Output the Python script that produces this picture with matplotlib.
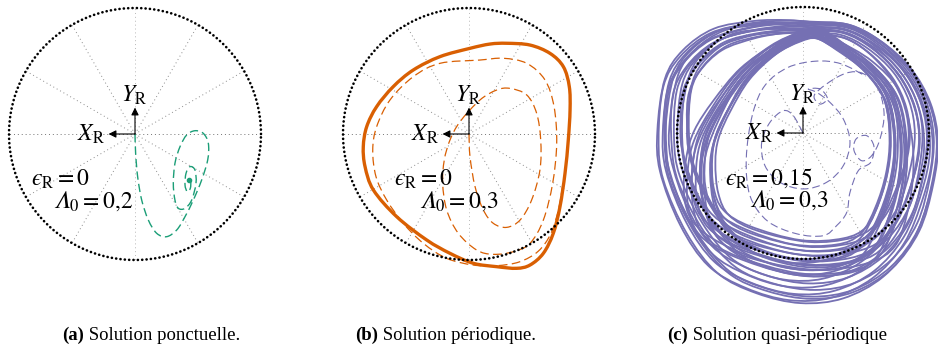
import matplotlib
matplotlib.use("Agg")
import matplotlib.pyplot as plt
import numpy as np
from matplotlib.path import Path
from matplotlib.patches import PathPatch

plt.rcParams['mathtext.fontset'] = 'stix'
plt.rcParams['font.family'] = ['Liberation Serif', 'DejaVu Serif']

# panel (a): spiral towards a fixed point (unit = outer circle radius)
a_x = [0.0, 0.005, 0.021, 0.053, 0.106, 0.172, 0.251, 0.331, 0.397, 0.463, 0.529, 0.577,
       0.582, 0.542, 0.476, 0.410, 0.357, 0.317, 0.304, 0.317, 0.344, 0.397, 0.450, 0.484,
       0.476, 0.437, 0.405, 0.397, 0.415, 0.439, 0.442, 0.426]
a_y = [0.0, -0.153, -0.339, -0.524, -0.683, -0.788, -0.815, -0.762, -0.656, -0.524, -0.365, -0.206,
       -0.074, 0.005, 0.026, -0.008, -0.101, -0.233, -0.391, -0.524, -0.590, -0.590, -0.524, -0.391,
       -0.286, -0.259, -0.312, -0.405, -0.458, -0.431, -0.378, -0.365]

# panel (b): limit cycle and transient
b_cycle_x = [0.299, 0.484, 0.643, 0.749, 0.796, 0.802, 0.788, 0.762, 0.722, 0.669, 0.590, 0.484,
             0.378, 0.220, 0.034, -0.151, -0.336, -0.574, -0.759, -0.825, -0.839, -0.812, -0.733,
             -0.601, -0.442, -0.230, 0.008, 0.167]
b_cycle_y = [0.720, 0.706, 0.640, 0.534, 0.376, 0.190, -0.048, -0.312, -0.577, -0.788, -0.947, -1.040,
             -1.066, -1.053, -1.026, -0.947, -0.841, -0.656, -0.444, -0.259, -0.101, 0.058, 0.217,
             0.376, 0.508, 0.614, 0.680, 0.714]
b_trans_x = [0.0, 0.008, 0.048, 0.114, 0.193, 0.299, 0.405, 0.497, 0.563, 0.569, 0.537, 0.458,
             0.325, 0.220, 0.087, -0.071, -0.151, -0.196, -0.209, -0.177, -0.085, 0.061, 0.193,
             0.352, 0.484, 0.590, 0.664, 0.696, 0.675, 0.603, 0.458, 0.272, 0.087, -0.230, -0.442,
             -0.627, -0.733, -0.764, -0.738, -0.653, -0.521, -0.362, -0.177, 0.034, 0.220, 0.400,
             0.550, 0.650, 0.710, 0.745]
b_trans_y = [0.0, -0.180, -0.418, -0.603, -0.709, -0.741, -0.683, -0.524, -0.286, -0.048, 0.164, 0.310,
             0.362, 0.349, 0.270, 0.098, -0.048, -0.206, -0.391, -0.603, -0.788, -0.921, -0.955,
             -0.934, -0.868, -0.683, -0.391, -0.074, 0.217, 0.429, 0.561, 0.601, 0.587, 0.561, 0.455,
             0.270, 0.058, -0.127, -0.339, -0.524, -0.709, -0.868, -0.987, -1.040, -1.045, -1.015,
             -0.930, -0.790, -0.600, -0.400]

# panel (c): innermost and outermost turns of the quasi-periodic band
c_in_x = [0.108, 0.267, 0.479, 0.637, 0.690, 0.677, 0.610, 0.505, 0.320, -0.020, -0.420, -0.632,
          -0.710, -0.720, -0.685, -0.580, -0.420, -0.210, -0.024]
c_in_y = [0.750, 0.659, 0.500, 0.288, 0.000, -0.267, -0.530, -0.743, -0.836, -0.850, -0.740, -0.611,
          -0.430, -0.190, 0.000, 0.210, 0.447, 0.630, 0.725]
c_out_x = [0.056, 0.373, 0.637, 0.875, 1.021, 1.066, 1.008, 0.875, 0.637, 0.320, -0.020, -0.368,
           -0.680, -0.923, -1.108, -1.146, -1.108, -0.976, -0.738, -0.421, -0.156]
c_out_y = [0.884, 0.857, 0.712, 0.474, 0.183, -0.135, -0.479, -0.849, -1.140, -1.312, -1.350, -1.272,
           -1.110, -0.796, -0.373, -0.045, 0.368, 0.606, 0.791, 0.870, 0.891]
# per-turn scale and rotation (deg) of the inner / outer turns
c_in_scale = [1.00, 1.01, 1.03, 1.04, 1.06, 1.07, 1.09, 1.10, 1.12, 1.13, 1.15, 1.16, 1.18, 1.19,
              1.21, 1.22]
c_in_rot = [0, 3, -3, 2, -4, 4, -2, 5, -5, 1, -1, 3, -6, 6, 0, -2]
c_out_scale = [1.00, 0.99, 0.97, 0.96, 0.94, 0.93, 0.91, 0.90, 0.88, 0.87, 0.85, 0.84, 0.82, 0.81,
               0.80, 0.98]
c_out_rot = [0, -3, 3, -2, 4, -4, 2, -5, 5, -1, 1, 6, -6, 2, -2, 3]
c_trans_x = [0.0, -0.077, -0.156, -0.262, -0.328, -0.302, -0.183, 0.003, 0.188, 0.320, 0.373, 0.320,
             0.214, 0.108, 0.042, 0.135, 0.193, 0.135, 0.095, 0.294, 0.452, 0.585, 0.643, 0.611,
             0.545, 0.466, 0.405, 0.421, 0.505, 0.563, 0.537, 0.439, 0.373, 0.347, 0.267, 0.161,
             -0.050, -0.280, -0.420, -0.450, -0.400, -0.300, -0.120, 0.100, 0.300, 0.500]
c_trans_y = [0.0, 0.137, 0.177, 0.085, -0.074, -0.259, -0.391, -0.444, -0.391, -0.259, -0.074, 0.111,
             0.243, 0.323, 0.349, 0.349, 0.275, 0.230, 0.310, 0.455, 0.481, 0.376, 0.164, -0.048,
             -0.180, -0.220, -0.140, -0.048, -0.021, -0.106, -0.233, -0.299, -0.471, -0.630, -0.735,
             -0.815, -0.800, -0.700, -0.500, -0.200, 0.150, 0.380, 0.520, 0.570, 0.550, 0.450]

labels_eps = ['$ϵ_{\\mathrm{R}} = 0$', '$ϵ_{\\mathrm{R}} = 0$', '$ϵ_{\\mathrm{R}} = 0{,}15$']
labels_lam = ['$𝛬_0 = 0{,}2$', '$𝛬_0 = 0{,}3$', '$𝛬_0 = 0{,}3$']
captions_bold = ['(a)', '(b)', '(c)']
captions = [' Solution ponctuelle.', ' Solution périodique.', ' Solution quasi-périodique']

green, orange, purple = '#1b9e77', '#d95f02', '#7570b3'

W, H = 938, 358
R = 126.0
fig = plt.figure(figsize=(W / 100, H / 100), dpi=100)


def make_axes(cx, cy):
    x0, x1, y0, y1 = -1.25, 1.25, -1.40, 1.05
    ax = fig.add_axes([(cx + x0 * R) / W, (H - cy + y0 * R) / H,
                       (x1 - x0) * R / W, (y1 - y0) * R / H])
    ax.set_xlim(x0, x1)
    ax.set_ylim(y0, y1)
    ax.axis('off')
    return ax


def smooth(ax, xs, ys, closed=False, **kw):
    p = np.column_stack([xs, ys])
    if closed:
        ext = np.vstack([p[-1], p, p[0], p[1]])
    else:
        ext = np.vstack([p[0], p, p[-1]])
    verts = [p[0]]
    codes = [Path.MOVETO]
    for i in range(1, len(ext) - 2):
        p0, p1, p2, p3 = ext[i - 1], ext[i], ext[i + 1], ext[i + 2]
        verts += [p1 + (p2 - p0) / 6, p2 - (p3 - p1) / 6, p2]
        codes += [Path.CURVE4] * 3
    ax.add_patch(PathPatch(Path(verts, codes), fill=False, **kw))


def turns(ax, xs, ys, scales, rots, anchor):
    base = np.column_stack([xs, ys]) - anchor
    for s, r in zip(scales, rots):
        th = np.deg2rad(r)
        rot = np.array([[np.cos(th), -np.sin(th)], [np.sin(th), np.cos(th)]])
        pts = base @ rot.T * s + anchor
        smooth(ax, pts[:, 0], pts[:, 1], closed=True, color=purple, lw=1.3, zorder=4)


def background(ax):
    for ang in range(0, 360, 30):
        t = np.deg2rad(ang)
        c = '0.45' if ang in (0, 180) else ('0.72' if ang in (90, 270) else '0.55')
        ax.plot([0, np.cos(t)], [0, np.sin(t)], color=c, lw=0.7, ls=(0, (1, 3)), zorder=1)


def foreground(ax, i):
    t = np.linspace(0, 2 * np.pi, 400)
    ax.plot(np.cos(t), np.sin(t), color='k', lw=1.9, ls=(0, (0.05, 1.6)),
            dash_capstyle='round', zorder=6)
    arr = dict(arrowstyle='-|>', color='k', lw=0.8, mutation_scale=11, shrinkA=0, shrinkB=0)
    ax.annotate('', xy=(-0.21, 0), xytext=(0, 0), arrowprops=arr, zorder=7)
    ax.annotate('', xy=(0, 0.21), xytext=(0, 0), arrowprops=arr, zorder=7)
    ax.text(-0.35, 0.0, r'$X_{\mathrm{R}}$', fontsize=17, ha='center', va='center', zorder=8)
    ax.text(-0.01, 0.31, r'$Y_{\mathrm{R}}$', fontsize=17, ha='center', va='center', zorder=8)
    ex = [-0.59, -0.36, -0.27]
    lx = [-0.33, -0.08, -0.11]
    ax.text(ex[i], -0.36, labels_eps[i], fontsize=17, ha='center', va='center', zorder=8)
    ax.text(lx[i], -0.53, labels_lam[i], fontsize=17, ha='center', va='center', zorder=8)


# (a)
ax = make_axes(135, 134)
background(ax)
smooth(ax, a_x, a_y, color=green, lw=1.0, ls=(0, (6, 3)), zorder=3)
ax.plot(a_x[-1], a_y[-1], 'o', color=green, ms=3, zorder=3)
foreground(ax, 0)

# (b)
ax = make_axes(469, 134)
background(ax)
smooth(ax, b_trans_x, b_trans_y, color=orange, lw=0.9, ls=(0, (7, 3.5)), zorder=3)
smooth(ax, b_cycle_x, b_cycle_y, closed=True, color=orange, lw=2.4, zorder=4)
foreground(ax, 1)

# (c)
ax = make_axes(803, 133)
background(ax)
smooth(ax, c_trans_x, c_trans_y, color=purple, lw=0.8, ls=(0, (7, 3.5)), zorder=3)
anchor = np.array([0.05, 0.40])
turns(ax, c_in_x, c_in_y, c_in_scale, c_in_rot, anchor)
turns(ax, c_out_x, c_out_y, c_out_scale, c_out_rot, anchor)
foreground(ax, 2)

# captions
renderer = fig.canvas.get_renderer()
for x0, b, c in zip([62, 355, 667], captions_bold, captions):
    t = fig.text(x0 / W, (H - 335) / H, b, fontsize=13.5, fontweight='bold', va='center', ha='left')
    bb = t.get_window_extent(renderer)
    fig.text(bb.x1 / W, (H - 335) / H, c, fontsize=13.5, va='center', ha='left')

fig.savefig('out.png', dpi=100)
